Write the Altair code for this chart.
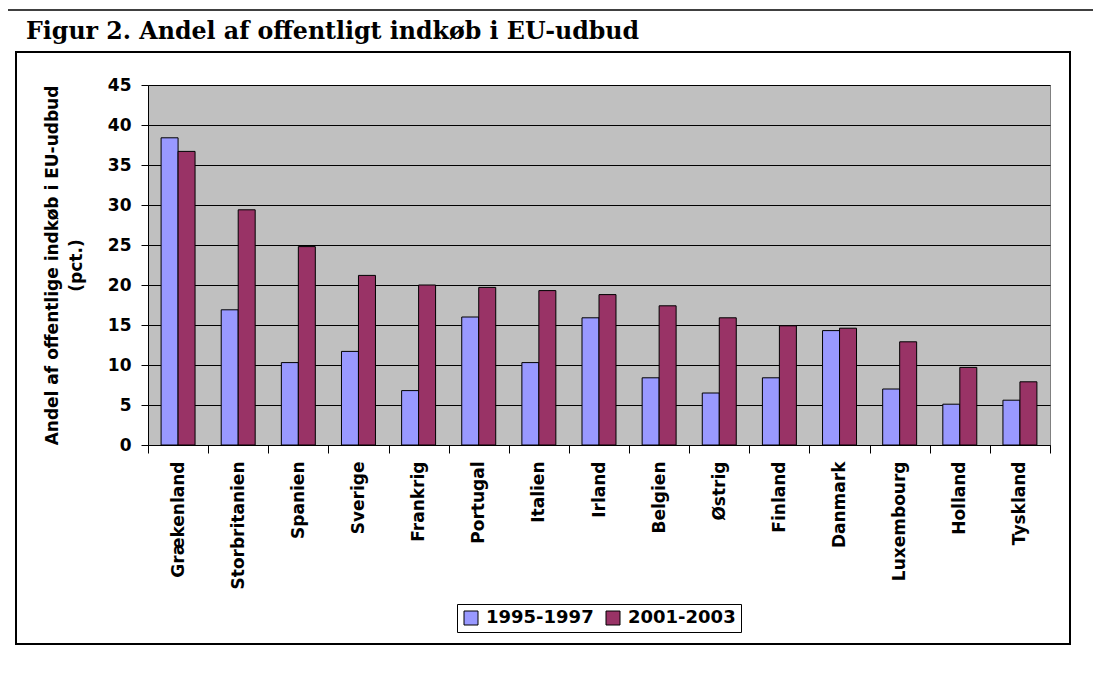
import altair as alt
import pandas as pd

# ---- data ----
countries = ["Grækenland", "Storbritanien", "Spanien", "Sverige", "Frankrig",
             "Portugal", "Italien", "Irland", "Belgien", "Østrig", "Finland",
             "Danmark", "Luxembourg", "Holland", "Tyskland"]
values_1995_1997 = [38.4, 16.9, 10.3, 11.7, 6.8, 16.0, 10.3, 15.9, 8.4, 6.5, 8.4, 14.3, 7.0, 5.1, 5.6]
values_2001_2003 = [36.7, 29.4, 24.8, 21.2, 20.0, 19.7, 19.3, 18.8, 17.4, 15.9, 14.9, 14.6, 12.9, 9.7, 7.9]
periods = ["1995-1997", "2001-2003"]
colors = ["#9999FF", "#993366"]
y_ticks = [0, 5, 10, 15, 20, 25, 30, 35, 40, 45]
title_text = "Figur 2. Andel af offentligt indkøb i EU-udbud"
y_title = ["Andel af offentlige indkøb i EU-udbud", "(pct.)"]

rows = []
for c, a, b in zip(countries, values_1995_1997, values_2001_2003):
    rows.append({"land": c, "periode": periods[0], "andel": a})
    rows.append({"land": c, "periode": periods[1], "andel": b})
df = pd.DataFrame(rows)

FONT = "DejaVu Sans"
W, H = 902, 360

bars = alt.Chart(df).mark_bar(stroke="black", strokeWidth=1).encode(
    x=alt.X("land:N", sort=countries, title=None,
            scale=alt.Scale(paddingInner=0, paddingOuter=0),
            axis=alt.Axis(labelAngle=-90, labelFont=FONT, labelFontSize=17,
                          labelFontWeight="bold", labelColor="black",
                          tickBand="extent", tickSize=8, tickColor="black",
                          domainColor="black", labelPadding=8, grid=False)),
    xOffset=alt.XOffset("periode:N", sort=periods,
                        scale=alt.Scale(paddingInner=0, paddingOuter=0.77)),
    y=alt.Y("andel:Q", title=y_title,
            scale=alt.Scale(domain=[0, 45], nice=False),
            axis=alt.Axis(values=y_ticks, labelFont=FONT, labelFontSize=17,
                          labelFontWeight="bold", labelColor="black",
                          tickSize=7, tickColor="black", domainColor="black",
                          labelPadding=10, grid=True, gridColor="black",
                          gridWidth=1, titleFont=FONT, titleFontSize=17,
                          titleFontWeight="bold", titleColor="black",
                          titlePadding=22, titleLineHeight=24)),
    color=alt.Color("periode:N", sort=periods,
                    scale=alt.Scale(domain=periods, range=colors),
                    legend=alt.Legend(title=None, orient="none", legendX=309,
                                      legendY=519, direction="horizontal",
                                      fillColor="white", strokeColor="black",
                                      padding=5, symbolType="square",
                                      symbolSize=196, symbolStrokeColor="black",
                                      symbolStrokeWidth=1, labelFont=FONT,
                                      labelFontSize=18, labelFontWeight="bold",
                                      labelColor="black", labelOffset=6,
                                      columnPadding=10)),
)

one = pd.DataFrame({"d": [0]})

frame_box = alt.Chart(one).mark_rect(fillOpacity=0, stroke="black", strokeWidth=2).encode(
    x=alt.value(-132), x2=alt.value(922), y=alt.value(-33), y2=alt.value(559))

page_top = alt.Chart(one).mark_rule(color="black", strokeWidth=1.5).encode(
    x=alt.value(-141), x2=alt.value(980), y=alt.value(-75))
page_left = alt.Chart(one).mark_rule(color="black", strokeWidth=1.5).encode(
    x=alt.value(-141), y=alt.value(-75), y2=alt.value(600))

title = alt.Chart(pd.DataFrame({"t": [title_text]})).mark_text(
    align="left", baseline="alphabetic", font="DejaVu Serif",
    fontSize=23.7, fontWeight="bold", color="black").encode(
    text="t:N", x=alt.value(-122), y=alt.value(-46))

chart = alt.layer(frame_box, page_top, page_left, title, bars).properties(
    width=W, height=H,
    autosize=alt.AutoSizeParams(type="none"),
    padding={"left": 140, "top": 77, "right": 43, "bottom": 215},
    background="white",
).configure_view(fill="#C0C0C0", stroke="#808080", strokeWidth=1)

chart.save("out.html", embed_options={"renderer": "svg", "actions": False})
